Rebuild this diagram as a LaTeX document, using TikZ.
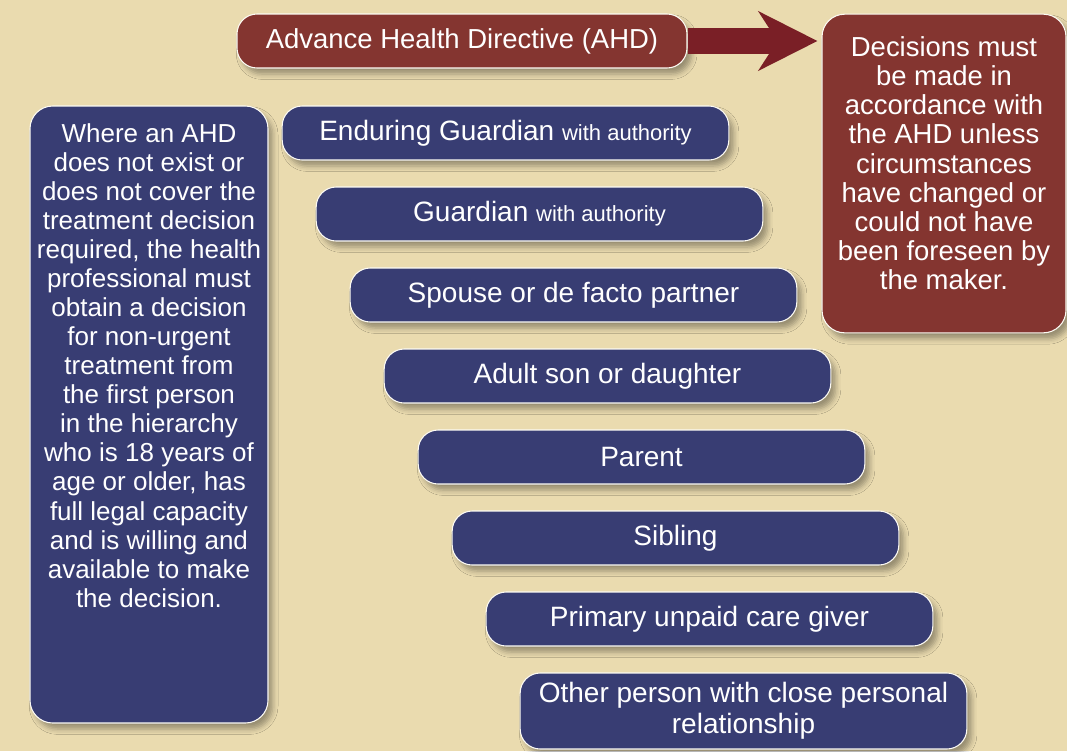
\documentclass[tikz,border=0pt]{standalone}
\usepackage{fontspec}
\setmainfont{Liberation Sans}
\usetikzlibrary{shadows.blur,arrows.meta}
\definecolor{bg}{HTML}{EADBAF}
\definecolor{navy}{HTML}{383D73}
\definecolor{brick}{HTML}{843530}
\definecolor{arrowred}{HTML}{7A1F26}
\tikzset{
  box/.style={draw=white!85!bg, line width=0.8pt, rounded corners=15pt, text=white,
    blur shadow={shadow xshift=3.5pt, shadow yshift=-4.5pt, shadow blur radius=4pt, shadow opacity=35},
    inner sep=0pt, align=center},
  bluebox/.style={box, fill=navy, minimum width=335pt, minimum height=40.5pt,
    font=\fontsize{21}{23}\selectfont},
  redbox/.style={box, fill=brick}
}
\newcommand{\sm}[1]{{\fontsize{16.5}{18}\selectfont #1}}
\begin{document}
\begin{tikzpicture}[x=0.75pt,y=-0.75pt]
\fill[bg] (0,0) rectangle (1067,751);
\useasboundingbox (0,0) rectangle (1067,751);

\node[redbox, minimum width=337.5pt, minimum height=40.5pt, font=\fontsize{20.6}{23}\selectfont] (ahd) at (462,41) {Advance Health Directive (AHD)};
\node[redbox, minimum width=183pt, minimum height=239pt, rounded corners=17pt] (dec) at (944,173.5)
  {\parbox[c][239pt][t]{180pt}{\fontsize{20.6}{21.8}\selectfont\centering\vspace*{17pt}Decisions must\\be made in\\accordance with\\the AHD unless\\circumstances\\have changed or\\could not have\\been foreseen by\\the maker.\par}};
\node[box, fill=navy, minimum width=178.5pt, minimum height=462.75pt, rounded corners=17pt] (where) at (149,414.5)
  {\parbox[c][462.75pt][t]{176pt}{\fontsize{19.5}{21.8}\selectfont\centering\vspace*{13pt}Where an AHD\\does not exist or\\does not cover the\\treatment decision\\required, the health\\professional must\\obtain a decision\\for non-urgent\\treatment from\\the first person\\in the hierarchy\\who is 18 years of\\age or older, has\\full legal capacity\\and is willing and\\available to make\\the decision.\par}};

\node[bluebox] (b1) at (505.5,133) {Enduring Guardian \sm{with authority}};
\node[bluebox] (b2) at (539.5,214) {Guardian \sm{with authority}};
\node[bluebox] (b3) at (573.5,295) {Spouse or de facto partner};
\node[bluebox] (b4) at (607.5,376) {Adult son or daughter};
\node[bluebox] (b5) at (641.5,457) {Parent};
\node[bluebox] (b6) at (675.5,538) {Sibling};
\node[bluebox] (b7) at (709.5,619) {Primary unpaid care giver};
\node[bluebox, minimum height=57pt] (b8) at (743.5,711) {Other person with close personal\\relationship};

\draw[arrowred, line width=19pt, -{Stealth[length=44pt, width=44pt, inset=14pt]}, shorten >=3pt]
  (ahd.east) -- (dec.west |- ahd.east);
\end{tikzpicture}
\end{document}
